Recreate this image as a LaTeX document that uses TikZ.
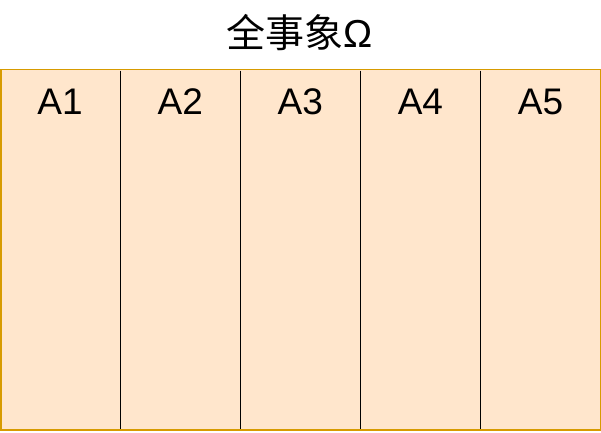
\documentclass[tikz,border=0pt]{standalone}
\usepackage{fontspec}
\setmainfont{Liberation Sans}
\newfontfamily\cjkfont{Noto Sans CJK SC}
\usetikzlibrary{positioning,calc}
\definecolor{cellfill}{HTML}{FFE6CC}
\definecolor{cellline}{HTML}{D79B00}
\tikzset{
  space/.style={rectangle, draw=cellline, fill=cellfill, line width=1.3pt,
    minimum width=599.5pt, minimum height=360.5pt, inner sep=0pt},
  evlabel/.style={font=\fontsize{37}{44}\selectfont, inner sep=0pt, anchor=base},
  divider/.style={draw=black, line width=0.9pt},
}
\begin{document}
\begin{tikzpicture}[x=1pt,y=1pt]
  \useasboundingbox (0,0) rectangle (601,432);
  \node[space, anchor=south west] (omega) at (0.5,1.5) {};
  \node[evlabel, font=\fontsize{39}{46}\selectfont] (title) at (300,384) {{\cjkfont 全事象}Ω};
  \foreach \i in {1,...,5}
    \node[evlabel] (a\i) at ({120.1*\i-60},318) {A\i};
  \foreach \i in {1,...,4}
    \draw[divider] ($(omega.north west)+({120.1*\i},-2)$) -- ($(omega.south west)+({120.1*\i},2)$);
\end{tikzpicture}
\end{document}
